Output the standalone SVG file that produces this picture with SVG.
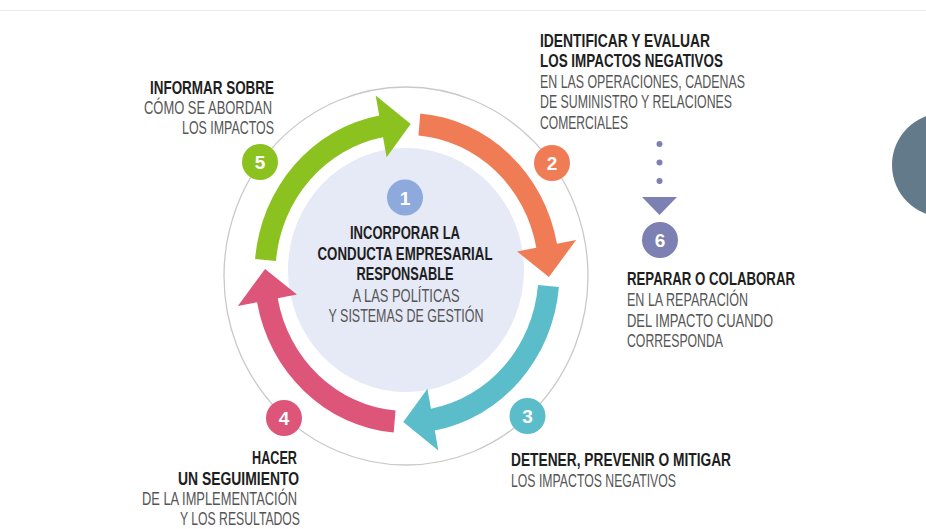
<svg xmlns="http://www.w3.org/2000/svg" width="926" height="529" viewBox="0 0 926 529">
<style>
.t{font-family:"Liberation Sans","Open Sans",sans-serif;font-size:18px}
.b{font-weight:bold;fill:#1e1e1e}
.r{fill:#555555}
.num{font-family:"Liberation Sans","Open Sans",sans-serif;font-size:19px;font-weight:bold;fill:#ffffff;text-anchor:middle}
.c1{fill:#8ea9dc}.c2{fill:#f07c56}.c3{fill:#5bbdca}.c4{fill:#dd5579}.c5{fill:#8bc220}.c6{fill:#7d80b3}
</style>
<defs>
<path id="arc" d="M151.92,13.29 A152.5,152.5 0 0 1 27.79,149.95 L31.34,169.12 L-3.72,141.95 L20.41,110.12 L23.96,129.30 A131.5,131.5 0 0 0 131.00,11.46 Z"/>
</defs>
<rect width="926" height="529" fill="#ffffff"/>
<line x1="0" y1="10.5" x2="926" y2="10.5" stroke="#e8e8e8" stroke-width="1"/>
<circle cx="944" cy="165" r="52" fill="#637a8a"/>
<ellipse id="ring" cx="406" cy="276" rx="182" ry="189" fill="none" stroke="#c9c9c9" stroke-width="1.3"/>
<g id="center">
<ellipse cx="406" cy="270" rx="118" ry="122" fill="#e6e9f6"/>
<circle class="c1" cx="405" cy="197.5" r="18"/>
<text class="num" x="405" y="204.5">1</text>
<text class="t b" x="405" y="238.5" text-anchor="middle" textLength="110" lengthAdjust="spacingAndGlyphs">INCORPORAR LA</text>
<text class="t b" x="405" y="259.5" text-anchor="middle" textLength="175" lengthAdjust="spacingAndGlyphs">CONDUCTA EMPRESARIAL</text>
<text class="t b" x="405" y="280" text-anchor="middle" textLength="97" lengthAdjust="spacingAndGlyphs">RESPONSABLE</text>
<text class="t r" x="406" y="301.5" text-anchor="middle" textLength="107" lengthAdjust="spacingAndGlyphs">A LAS POLÍTICAS</text>
<text class="t r" x="406" y="321.5" text-anchor="middle" textLength="155" lengthAdjust="spacingAndGlyphs">Y SISTEMAS DE GESTIÓN</text>
</g>
<g id="connectors">
<use href="#arc" class="c3" transform="translate(407,273) scale(1,1.05)"/>
<use href="#arc" class="c4" transform="translate(407,273) scale(1,1.05) rotate(90)"/>
<use href="#arc" class="c5" transform="translate(407,273) scale(1,1.05) rotate(180)"/>
<use href="#arc" class="c2" transform="translate(407,273) scale(1,1.05) rotate(270)"/>
<g class="c6">
<circle cx="659.5" cy="144" r="3"/>
<circle cx="659.5" cy="162.5" r="3"/>
<circle cx="659.5" cy="181" r="3"/>
<polygon points="642,197 677,197 659.5,215"/>
</g>
</g>
<g id="step2">
<circle class="c2" cx="552" cy="163" r="18"/>
<text class="num" x="552" y="170">2</text>
<text class="t b" x="540" y="46.5" textLength="170" lengthAdjust="spacingAndGlyphs">IDENTIFICAR Y EVALUAR</text>
<text class="t b" x="540" y="67" textLength="183" lengthAdjust="spacingAndGlyphs">LOS IMPACTOS NEGATIVOS</text>
<text class="t r" x="540" y="87.5" textLength="205" lengthAdjust="spacingAndGlyphs">EN LAS OPERACIONES, CADENAS</text>
<text class="t r" x="540" y="108" textLength="192" lengthAdjust="spacingAndGlyphs">DE SUMINISTRO Y RELACIONES</text>
<text class="t r" x="540" y="129" textLength="88" lengthAdjust="spacingAndGlyphs">COMERCIALES</text>
</g>
<g id="step3">
<circle class="c3" cx="527.5" cy="416" r="18"/>
<text class="num" x="527.5" y="423">3</text>
<text class="t b" x="511" y="466" textLength="220" lengthAdjust="spacingAndGlyphs">DETENER, PREVENIR O MITIGAR</text>
<text class="t r" x="511" y="487" textLength="165" lengthAdjust="spacingAndGlyphs">LOS IMPACTOS NEGATIVOS</text>
</g>
<g id="step4">
<circle class="c4" cx="284" cy="418" r="18"/>
<text class="num" x="284" y="425">4</text>
<text class="t b" x="297" y="464" text-anchor="end" textLength="45" lengthAdjust="spacingAndGlyphs">HACER</text>
<text class="t b" x="299" y="484.5" text-anchor="end" textLength="121" lengthAdjust="spacingAndGlyphs">UN SEGUIMIENTO</text>
<text class="t r" x="297" y="504.5" text-anchor="end" textLength="155" lengthAdjust="spacingAndGlyphs">DE LA IMPLEMENTACIÓN</text>
<text class="t r" x="300" y="524.5" text-anchor="end" textLength="120" lengthAdjust="spacingAndGlyphs">Y LOS RESULTADOS</text>
</g>
<g id="step5">
<circle class="c5" cx="260" cy="162" r="18"/>
<text class="num" x="260" y="169">5</text>
<text class="t b" x="274" y="94" text-anchor="end" textLength="124" lengthAdjust="spacingAndGlyphs">INFORMAR SOBRE</text>
<text class="t r" x="272" y="114" text-anchor="end" textLength="128" lengthAdjust="spacingAndGlyphs">CÓMO SE ABORDAN</text>
<text class="t r" x="274" y="134" text-anchor="end" textLength="92" lengthAdjust="spacingAndGlyphs">LOS IMPACTOS</text>
</g>
<g id="step6">
<circle class="c6" cx="660" cy="240" r="18"/>
<text class="num" x="660" y="247">6</text>
<text class="t b" x="627" y="285" textLength="168" lengthAdjust="spacingAndGlyphs">REPARAR O COLABORAR</text>
<text class="t r" x="627" y="306" textLength="121" lengthAdjust="spacingAndGlyphs">EN LA REPARACIÓN</text>
<text class="t r" x="627" y="326.5" textLength="146" lengthAdjust="spacingAndGlyphs">DEL IMPACTO CUANDO</text>
<text class="t r" x="627" y="347" textLength="96" lengthAdjust="spacingAndGlyphs">CORRESPONDA</text>
</g>
</svg>
